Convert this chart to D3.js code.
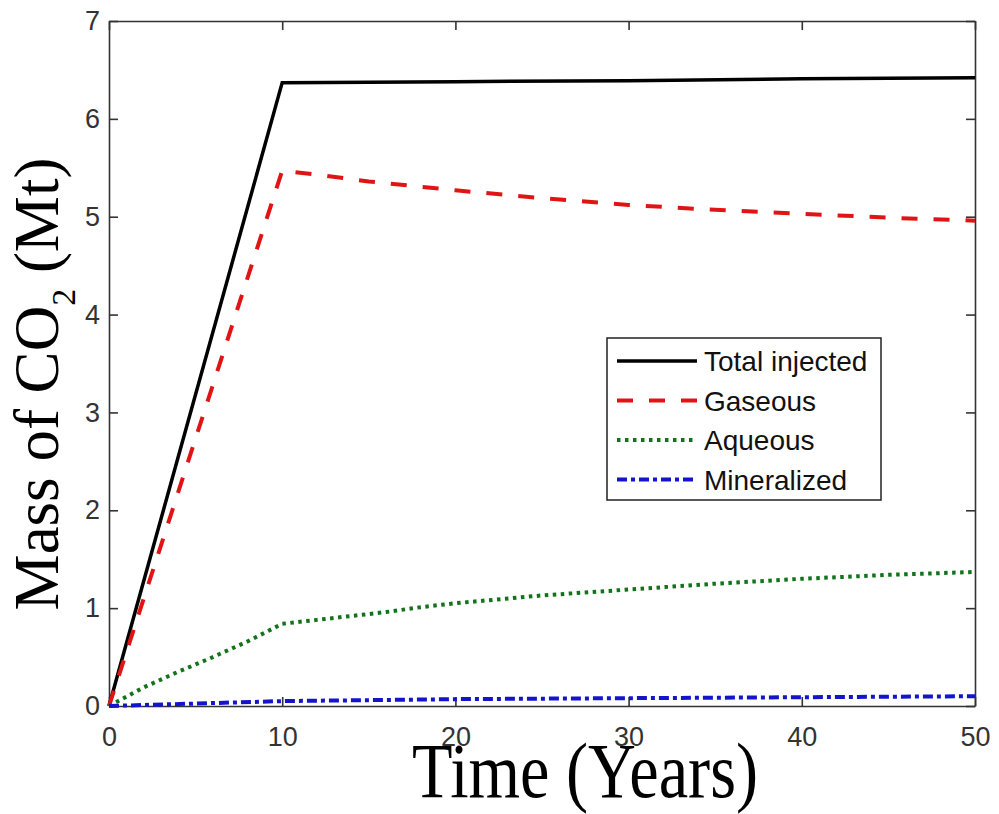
<!DOCTYPE html>
<html>
<head>
<meta charset="utf-8">
<script src="https://cdn.jsdelivr.net/npm/d3@7"></script>
<style>
  html, body { margin: 0; padding: 0; background: #fff; }
  svg { display: block; }
</style>
</head>
<body>
<svg id="chart" width="999" height="814"></svg>
<script>
// Simulated CO2 trapping over 50 years (Mt)
const totalYears    = [0, 10, 20, 30, 40, 50];
const totalMt       = [0, 6.37, 6.38, 6.39, 6.41, 6.42];

const gaseousYears  = [0, 10, 12, 15, 20, 25, 30, 35, 40, 45, 50];
const gaseousMt     = [0, 5.47, 5.43, 5.36, 5.27, 5.19, 5.12, 5.07, 5.03, 4.99, 4.96];

const aqueousYears  = [0, 2, 4, 6, 8, 10, 12, 14, 16, 18, 20, 25, 30, 35, 40, 45, 50];
const aqueousMt     = [0, 0.19, 0.35, 0.50, 0.66, 0.84, 0.88, 0.92, 0.96, 1.01, 1.05, 1.13, 1.19, 1.25, 1.30, 1.34, 1.37];

const mineralYears  = [0, 10, 20, 30, 40, 50];
const mineralMt     = [0, 0.05, 0.07, 0.08, 0.09, 0.10];

const seriesNames   = ["Total injected", "Gaseous", "Aqueous", "Mineralized"];
const xTicks        = [0, 10, 20, 30, 40, 50];
const yTicks        = [0, 1, 2, 3, 4, 5, 6, 7];

const svg = d3.select("#chart");
const plot = { left: 109, right: 975, top: 21, bottom: 706 };

const x = d3.scaleLinear().domain([0, 50]).range([plot.left, plot.right]);
const y = d3.scaleLinear().domain([0, 7]).range([plot.bottom, plot.top]);

const axisColor = "#333";
const tickFont = "'Liberation Sans', Arial, sans-serif";
const intFormat = d3.format("d");

function styleAxis(g) {
  g.select(".domain").attr("stroke", axisColor).attr("stroke-width", 1.6);
  g.selectAll(".tick line").attr("stroke", axisColor).attr("stroke-width", 1.6);
  g.selectAll(".tick text")
    .attr("fill", axisColor)
    .style("font-family", tickFont)
    .style("font-size", "27px");
}

// Bottom and left axes with labels, ticks pointing inward
svg.append("g")
  .attr("transform", `translate(0,${plot.bottom})`)
  .call(d3.axisBottom(x).tickValues(xTicks).tickFormat(intFormat)
    .tickSizeInner(-9).tickSizeOuter(0).tickPadding(21))
  .call(styleAxis);

svg.append("g")
  .attr("transform", `translate(${plot.left},0)`)
  .call(d3.axisLeft(y).tickValues(yTicks).tickFormat(intFormat)
    .tickSizeInner(-9).tickSizeOuter(0).tickPadding(9))
  .call(styleAxis);

// Top and right box edges with mirrored ticks
svg.append("g")
  .attr("transform", `translate(0,${plot.top})`)
  .call(d3.axisTop(x).tickValues(xTicks).tickSizeInner(-9).tickSizeOuter(0).tickFormat(""))
  .call(styleAxis);

svg.append("g")
  .attr("transform", `translate(${plot.right},0)`)
  .call(d3.axisRight(y).tickValues(yTicks).tickSizeInner(-9).tickSizeOuter(0).tickFormat(""))
  .call(styleAxis);

// Series styles
const styles = [
  { color: "#000000", width: 3.5, dash: null },
  { color: "#e01414", width: 4,   dash: "16,16" },
  { color: "#12731a", width: 4,   dash: "3.5,4.5" },
  { color: "#1414cc", width: 4,   dash: "10,4,4,4" }
];

const seriesData = [
  d3.zip(totalYears, totalMt),
  d3.zip(gaseousYears, gaseousMt),
  d3.zip(aqueousYears, aqueousMt),
  d3.zip(mineralYears, mineralMt)
];

const line = d3.line().x(d => x(d[0])).y(d => y(d[1]));

svg.append("g").selectAll("path")
  .data(seriesData)
  .join("path")
  .attr("d", line)
  .attr("fill", "none")
  .attr("stroke", (d, i) => styles[i].color)
  .attr("stroke-width", (d, i) => styles[i].width)
  .attr("stroke-dasharray", (d, i) => styles[i].dash)
  .attr("stroke-linejoin", "miter");

// Legend
const legend = svg.append("g");
legend.append("rect")
  .attr("x", 607).attr("y", 338)
  .attr("width", 274).attr("height", 162)
  .attr("fill", "#fff")
  .attr("stroke", "#222")
  .attr("stroke-width", 1.5);

const rows = legend.selectAll("g.item")
  .data(seriesNames)
  .join("g")
  .attr("class", "item")
  .attr("transform", (d, i) => `translate(0,${361 + i * 39.5})`);

rows.append("line")
  .attr("x1", 617).attr("x2", 697)
  .attr("y1", 0).attr("y2", 0)
  .attr("stroke", (d, i) => styles[i].color)
  .attr("stroke-width", (d, i) => styles[i].width)
  .attr("stroke-dasharray", (d, i) => styles[i].dash);

rows.append("text")
  .attr("x", 704)
  .attr("y", 0)
  .attr("dy", "0.36em")
  .style("font-family", tickFont)
  .style("font-size", "28px")
  .attr("fill", "#111")
  .text(d => d);

// Axis titles
const serif = "'Liberation Serif', 'Times New Roman', serif";

svg.append("text")
  .attr("x", 585)
  .attr("y", 797)
  .attr("text-anchor", "middle")
  .attr("textLength", 346)
  .attr("lengthAdjust", "spacingAndGlyphs")
  .style("font-family", serif)
  .style("font-size", "79px")
  .attr("fill", "#000")
  .text("Time (Years)");

const yTitle = svg.append("text")
  .attr("transform", "translate(58,384) rotate(-90)")
  .attr("text-anchor", "middle")
  .style("font-family", serif)
  .style("font-size", "63px")
  .attr("fill", "#000");
yTitle.append("tspan").text("Mass of CO");
yTitle.append("tspan").attr("dy", 17).style("font-size", "34px").text("2");
yTitle.append("tspan").attr("dy", -17).text(" (Mt)");
</script>
</body>
</html>
